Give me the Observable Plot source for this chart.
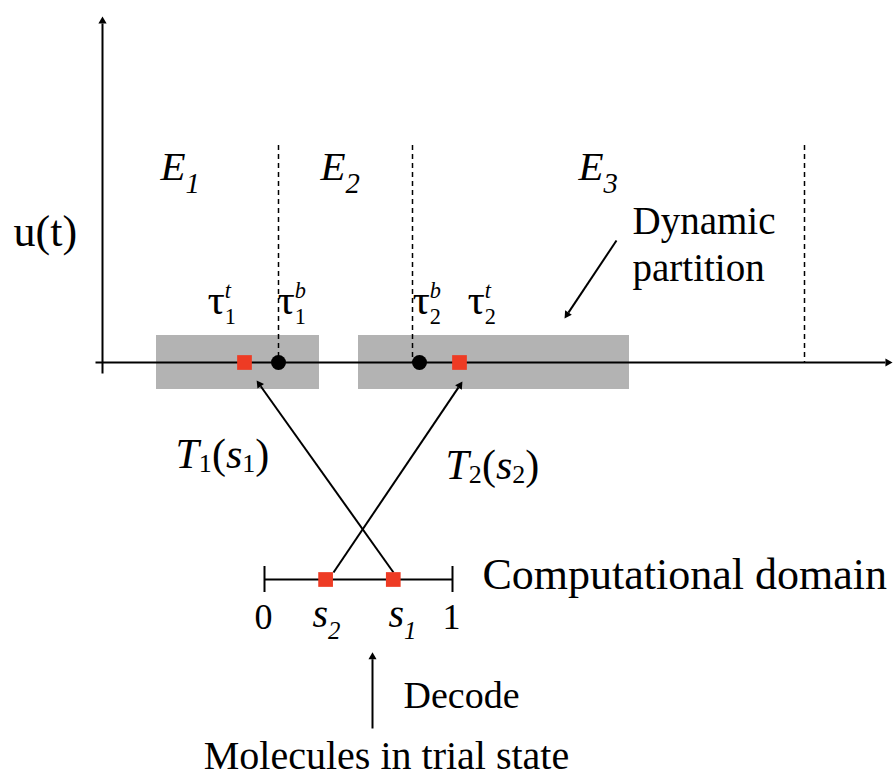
<!DOCTYPE html>
<html>
<head>
<meta charset="utf-8">
<script src="https://cdn.jsdelivr.net/npm/d3@7"></script>
<script src="https://cdn.jsdelivr.net/npm/@observablehq/plot@0.6"></script>
<style>
  body { margin: 0; background: #fff; }
  #chart svg { display: block; }
</style>
</head>
<body>
<div id="chart"></div>
<script>
// ---- Diagram data (diagram units = page units) ----
const timeAxisY = 362;
const epochBoundaries = [278, 412, 804];        // dashed boundaries between E1 | E2 | E3
const epochBoundaryTop = 145;
const partitions = [                              // grey dynamic-partition boxes
  {x1: 156, x2: 319, y1: 335, y2: 389},
  {x1: 358, x2: 629, y1: 335, y2: 389}
];
const tauTop = [244, 459];                        // τ^t (red squares on time axis)
const tauBottom = [278, 419];                     // τ^b (black dots on time axis)

// computational domain [0, 1]
const domainY = 579;
const domainPixels = [264, 452];
const domainEnds = [0, 1];
const samples = [{name: "s1", v: 0.685}, {name: "s2", v: 0.325}];
const toDomain = d3.scaleLinear(domainEnds, domainPixels);

// arrows (tail -> tip)
const arrows = [
  {name: "u axis",   x1: 102, y1: 373, x2: 102, y2: 12,  r: 5.6},
  {name: "t axis",   x1: 95,  y1: 362, x2: 896, y2: 362, r: 5.6},
  {name: "T1(s1)",   x1: 393, y1: 572, x2: 254, y2: 377, r: 5.4},
  {name: "T2(s2)",   x1: 333, y1: 572, x2: 464, y2: 378, r: 5.4},
  {name: "partition",x1: 616, y1: 240, x2: 562, y2: 321, r: 5.4},
  {name: "decode",   x1: 372, y1: 728, x2: 372, y2: 648, r: 5.4}
];

// text labels: segments {t, i: italic, k: size factor, pos: "sub" | "sup", back: stack under previous}
const labels = [
  {x: 13,  y: 245, size: 44, anchor: "start", segs: [{t: "u(t)"}]},
  {x: 160, y: 179, size: 41, anchor: "start", sub: 0.32, scale: 0.7, segs: [{t: "E", i: 1}, {t: "1", i: 1, pos: "sub"}]},
  {x: 320, y: 179, size: 41, anchor: "start", sub: 0.32, scale: 0.7, segs: [{t: "E", i: 1}, {t: "2", i: 1, pos: "sub"}]},
  {x: 578, y: 179, size: 41, anchor: "start", sub: 0.32, scale: 0.7, segs: [{t: "E", i: 1}, {t: "3", i: 1, pos: "sub"}]},
  {x: 207, y: 313, size: 36, anchor: "start", segs: [{t: "τ", k: 1.2}, {t: "t", i: 1, pos: "sup"}, {t: "1", pos: "sub", back: 1}]},
  {x: 277, y: 313, size: 36, anchor: "start", segs: [{t: "τ", k: 1.2}, {t: "b", i: 1, pos: "sup"}, {t: "1", pos: "sub", back: 1}]},
  {x: 412, y: 313, size: 36, anchor: "start", segs: [{t: "τ", k: 1.2}, {t: "b", i: 1, pos: "sup"}, {t: "2", pos: "sub", back: 1}]},
  {x: 467, y: 313, size: 36, anchor: "start", segs: [{t: "τ", k: 1.2}, {t: "t", i: 1, pos: "sup"}, {t: "2", pos: "sub", back: 1}]},
  {x: 632, y: 233, size: 39, anchor: "start", segs: [{t: "Dynamic"}]},
  {x: 632, y: 280, size: 39, anchor: "start", segs: [{t: "partition"}]},
  {x: 175, y: 467, size: 42, anchor: "start", sub: 0.1, segs: [{t: "T", i: 1}, {t: "1", pos: "sub"}, {t: "("}, {t: "s", i: 1}, {t: "1", pos: "sub"}, {t: ")"}]},
  {x: 445, y: 478, size: 42, anchor: "start", sub: 0.1, segs: [{t: "T", i: 1}, {t: "2", pos: "sub"}, {t: "("}, {t: "s", i: 1}, {t: "2", pos: "sub"}, {t: ")"}]},
  {x: 482, y: 588, size: 44, anchor: "start", segs: [{t: "Computational domain"}]},
  {x: 263, y: 628, size: 36, anchor: "middle", segs: [{t: "0"}]},
  {x: 451, y: 628, size: 36, anchor: "middle", segs: [{t: "1"}]},
  {x: 312, y: 626, size: 40, anchor: "start", sub: 0.3, segs: [{t: "s", i: 1}, {t: "2", i: 1, pos: "sub"}]},
  {x: 388, y: 626, size: 40, anchor: "start", sub: 0.3, segs: [{t: "s", i: 1}, {t: "1", i: 1, pos: "sub"}]},
  {x: 403, y: 707, size: 38, anchor: "start", segs: [{t: "Decode"}]},
  {x: 386, y: 768, size: 40, anchor: "middle", segs: [{t: "Molecules in trial state"}]}
];

// ---- derived geometry for arrows ----
const arrowGeom = arrows.map(a => {
  const dx = a.x2 - a.x1, dy = a.y2 - a.y1, L = Math.hypot(dx, dy);
  const ux = dx / L, uy = dy / L;
  const h = 2.333 * a.r;                  // triangle height for symbol radius r
  return {
    ...a,
    lx2: a.x2 - ux * h * 0.85, ly2: a.y2 - uy * h * 0.85,
    hx: a.x2 - ux * 1.555 * a.r, hy: a.y2 - uy * 1.555 * a.r,
    angle: Math.atan2(ux, -uy) * 180 / Math.PI
  };
});

const plain = d => d.segs.map(s => s.t).join("");
const serif = "Liberation Serif, Times New Roman, Times, serif";
const textOpts = anchor => ({x: "x", y: "y", text: plain, fontSize: d => d.size, fontFamily: serif, textAnchor: anchor, lineAnchor: "bottom", fill: "#000"});

const chart = Plot.plot({
  width: 896,
  height: 779,
  margin: 0,
  x: {domain: [0, 896], range: [0, 896], axis: null},
  y: {domain: [0, 779], range: [0, 779], axis: null},
  style: {fontFamily: serif, background: "#fff"},
  marks: [
    // grey partitions
    Plot.rect(partitions, {x1: "x1", x2: "x2", y1: "y1", y2: "y2", fill: "#b3b3b3"}),
    // dashed epoch boundaries
    Plot.ruleX(epochBoundaries, {x: d => d, y1: epochBoundaryTop, y2: timeAxisY, stroke: "#000", strokeWidth: 1.5, strokeDasharray: "5,4"}),
    // arrow shafts
    Plot.link(arrowGeom, {x1: "x1", y1: "y1", x2: "lx2", y2: "ly2", stroke: "#000", strokeWidth: 2}),
    // arrow heads
    Plot.dot(arrowGeom, {x: "hx", y: "hy", r: "r", symbol: "triangle", rotate: "angle", fill: "#000", stroke: null}),
    // computational domain segment with end ticks
    Plot.ruleY([domainY], {x1: toDomain(domainEnds[0]), x2: toDomain(domainEnds[1]), stroke: "#000", strokeWidth: 2}),
    Plot.ruleX(domainEnds, {x: d => toDomain(d), y1: domainY - 13, y2: domainY + 13, stroke: "#000", strokeWidth: 2}),
    // sample squares in the computational domain
    Plot.dot(samples, {x: d => toDomain(d.v), y: domainY, symbol: "square", r: 8.3, fill: "#ee3b24", stroke: null}),
    // τ^t squares and τ^b dots on the time axis
    Plot.dot(tauTop, {x: d => d, y: timeAxisY, symbol: "square", r: 8.3, fill: "#ee3b24", stroke: null}),
    Plot.dot(tauBottom, {x: d => d, y: timeAxisY, r: 7.5, fill: "#000", stroke: null}),
    // labels
    Plot.text(labels.filter(d => d.anchor === "start"), textOpts("start")),
    Plot.text(labels.filter(d => d.anchor === "middle"), textOpts("middle"))
  ]
});

document.getElementById("chart").append(chart);

// ---- rich text (italic, sub/superscripts) ----
const rich = new Map(labels.map(d => [plain(d), d]));
d3.select(chart).selectAll("text").each(function () {
  const d = rich.get(this.textContent);
  if (!d) return;
  const F = d.size;
  const subOff = (d.sub ?? 0.28) * F, supOff = -0.44 * F, scale = d.scale ?? 0.62;
  this.textContent = "";
  let off = 0, prev = null;
  for (const s of d.segs) {
    const ts = d3.select(this).append("tspan").text(s.t);
    if (s.i) ts.attr("font-style", "italic");
    const target = s.pos === "sub" ? subOff : s.pos === "sup" ? supOff : 0;
    if (s.pos) ts.attr("font-size", (F * scale) + "px");
    else if (s.k) ts.attr("font-size", (F * s.k) + "px");
    if (target !== off) ts.attr("dy", target - off);
    if (s.back && prev) ts.attr("dx", -prev.node().getComputedTextLength());
    off = target;
    prev = ts;
  }
});
</script>
</body>
</html>
